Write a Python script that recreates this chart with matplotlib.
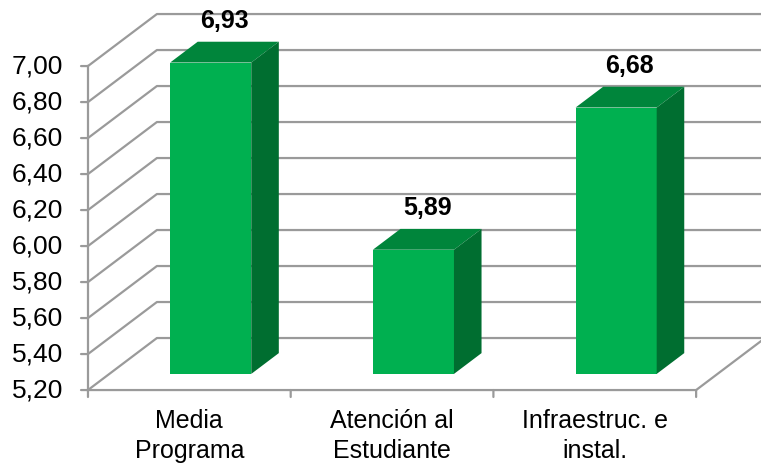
import matplotlib.pyplot as plt
from matplotlib.patches import Polygon

plt.rcParams["font.family"] = ["Liberation Sans", "DejaVu Sans"]

categories = ["Media\nPrograma", "Atención al\nEstudiante", "Infraestruc. e\ninstal."]
values = [6.93, 5.89, 6.68]
y_ticks = [5.20, 5.40, 5.60, 5.80, 6.00, 6.20, 6.40, 6.60, 6.80, 7.00]
y_labels = ["5,20", "5,40", "5,60", "5,80", "6,00", "6,20", "6,40", "6,60", "6,80", "7,00"]
value_labels = ["6,93", "5,89", "6,68"]

# 3D look: depth vector in data units, bar depth range and width
DX, DY = 0.34, 0.289
D0, D1 = 0.31, 0.71
BAR_W = 0.4
YMIN = 5.2

FRONT = "#00B050"
TOP = "#00853B"
SIDE = "#006E30"
GRID = "#9A9A9A"

fig = plt.figure(figsize=(7.61, 4.66), dpi=100)
ax = fig.add_axes([0, 0, 1, 1])
ax.set_xlim(-0.434, 3.320)
ax.set_ylim(4.778, 7.367)
ax.axis("off")

n = len(categories)

# back wall gridlines + left wall diagonals
for t in y_ticks:
    ax.plot([0, DX, n + DX], [t, t + DY, t + DY], color=GRID, lw=1.6, zorder=1,
            solid_capstyle="butt")

# floor
ax.plot([0, n, n + DX], [YMIN, YMIN, YMIN + DY], color=GRID, lw=1.6, zorder=1)

# front value axis and ticks
ax.plot([0, 0], [YMIN, y_ticks[-1]], color=GRID, lw=1.6, zorder=1)
for t, lab in zip(y_ticks, y_labels):
    ax.annotate("", xy=(0, t), xytext=(-5, 0), textcoords="offset points",
                arrowprops=dict(arrowstyle="-", color=GRID, lw=1.6,
                                shrinkA=0, shrinkB=0))
    ax.annotate(lab, xy=(0, t), xytext=(-18, 0), textcoords="offset points",
                ha="right", va="center", fontsize=19, color="black")

# category ticks
for i in range(n + 1):
    ax.annotate("", xy=(i, YMIN), xytext=(0, -5), textcoords="offset points",
                arrowprops=dict(arrowstyle="-", color=GRID, lw=1.6,
                                shrinkA=0, shrinkB=0))

# bars
for i, (v, lab) in enumerate(zip(values, value_labels)):
    x0 = i + 0.5 - BAR_W / 2
    x1 = i + 0.5 + BAR_W / 2
    fx0, fx1 = x0 + D0 * DX, x1 + D0 * DX
    fy0, fy1 = YMIN + D0 * DY, v + D0 * DY
    bx, by = (D1 - D0) * DX, (D1 - D0) * DY
    ax.add_patch(Polygon([(fx0, fy0), (fx1, fy0), (fx1, fy1), (fx0, fy1)],
                         closed=True, facecolor=FRONT, edgecolor="none", zorder=3))
    ax.add_patch(Polygon([(fx0, fy1), (fx1, fy1), (fx1 + bx, fy1 + by), (fx0 + bx, fy1 + by)],
                         closed=True, facecolor=TOP, edgecolor="none", zorder=3))
    ax.add_patch(Polygon([(fx1, fy0), (fx1 + bx, fy0 + by), (fx1 + bx, fy1 + by), (fx1, fy1)],
                         closed=True, facecolor=SIDE, edgecolor="none", zorder=3))
    ax.annotate(lab, xy=(i + 0.5 + (D0 + D1) / 2 * DX, v + D1 * DY),
                xytext=(0, 10), textcoords="offset points",
                ha="center", va="baseline", fontsize=18, fontweight="bold", zorder=4)

# category labels
for i, cat in enumerate(categories):
    ax.annotate(cat, xy=(i + 0.5, YMIN), xytext=(0, -14), textcoords="offset points",
                ha="center", va="top", fontsize=18, linespacing=1.3)

fig.savefig("out.png", dpi=100)
